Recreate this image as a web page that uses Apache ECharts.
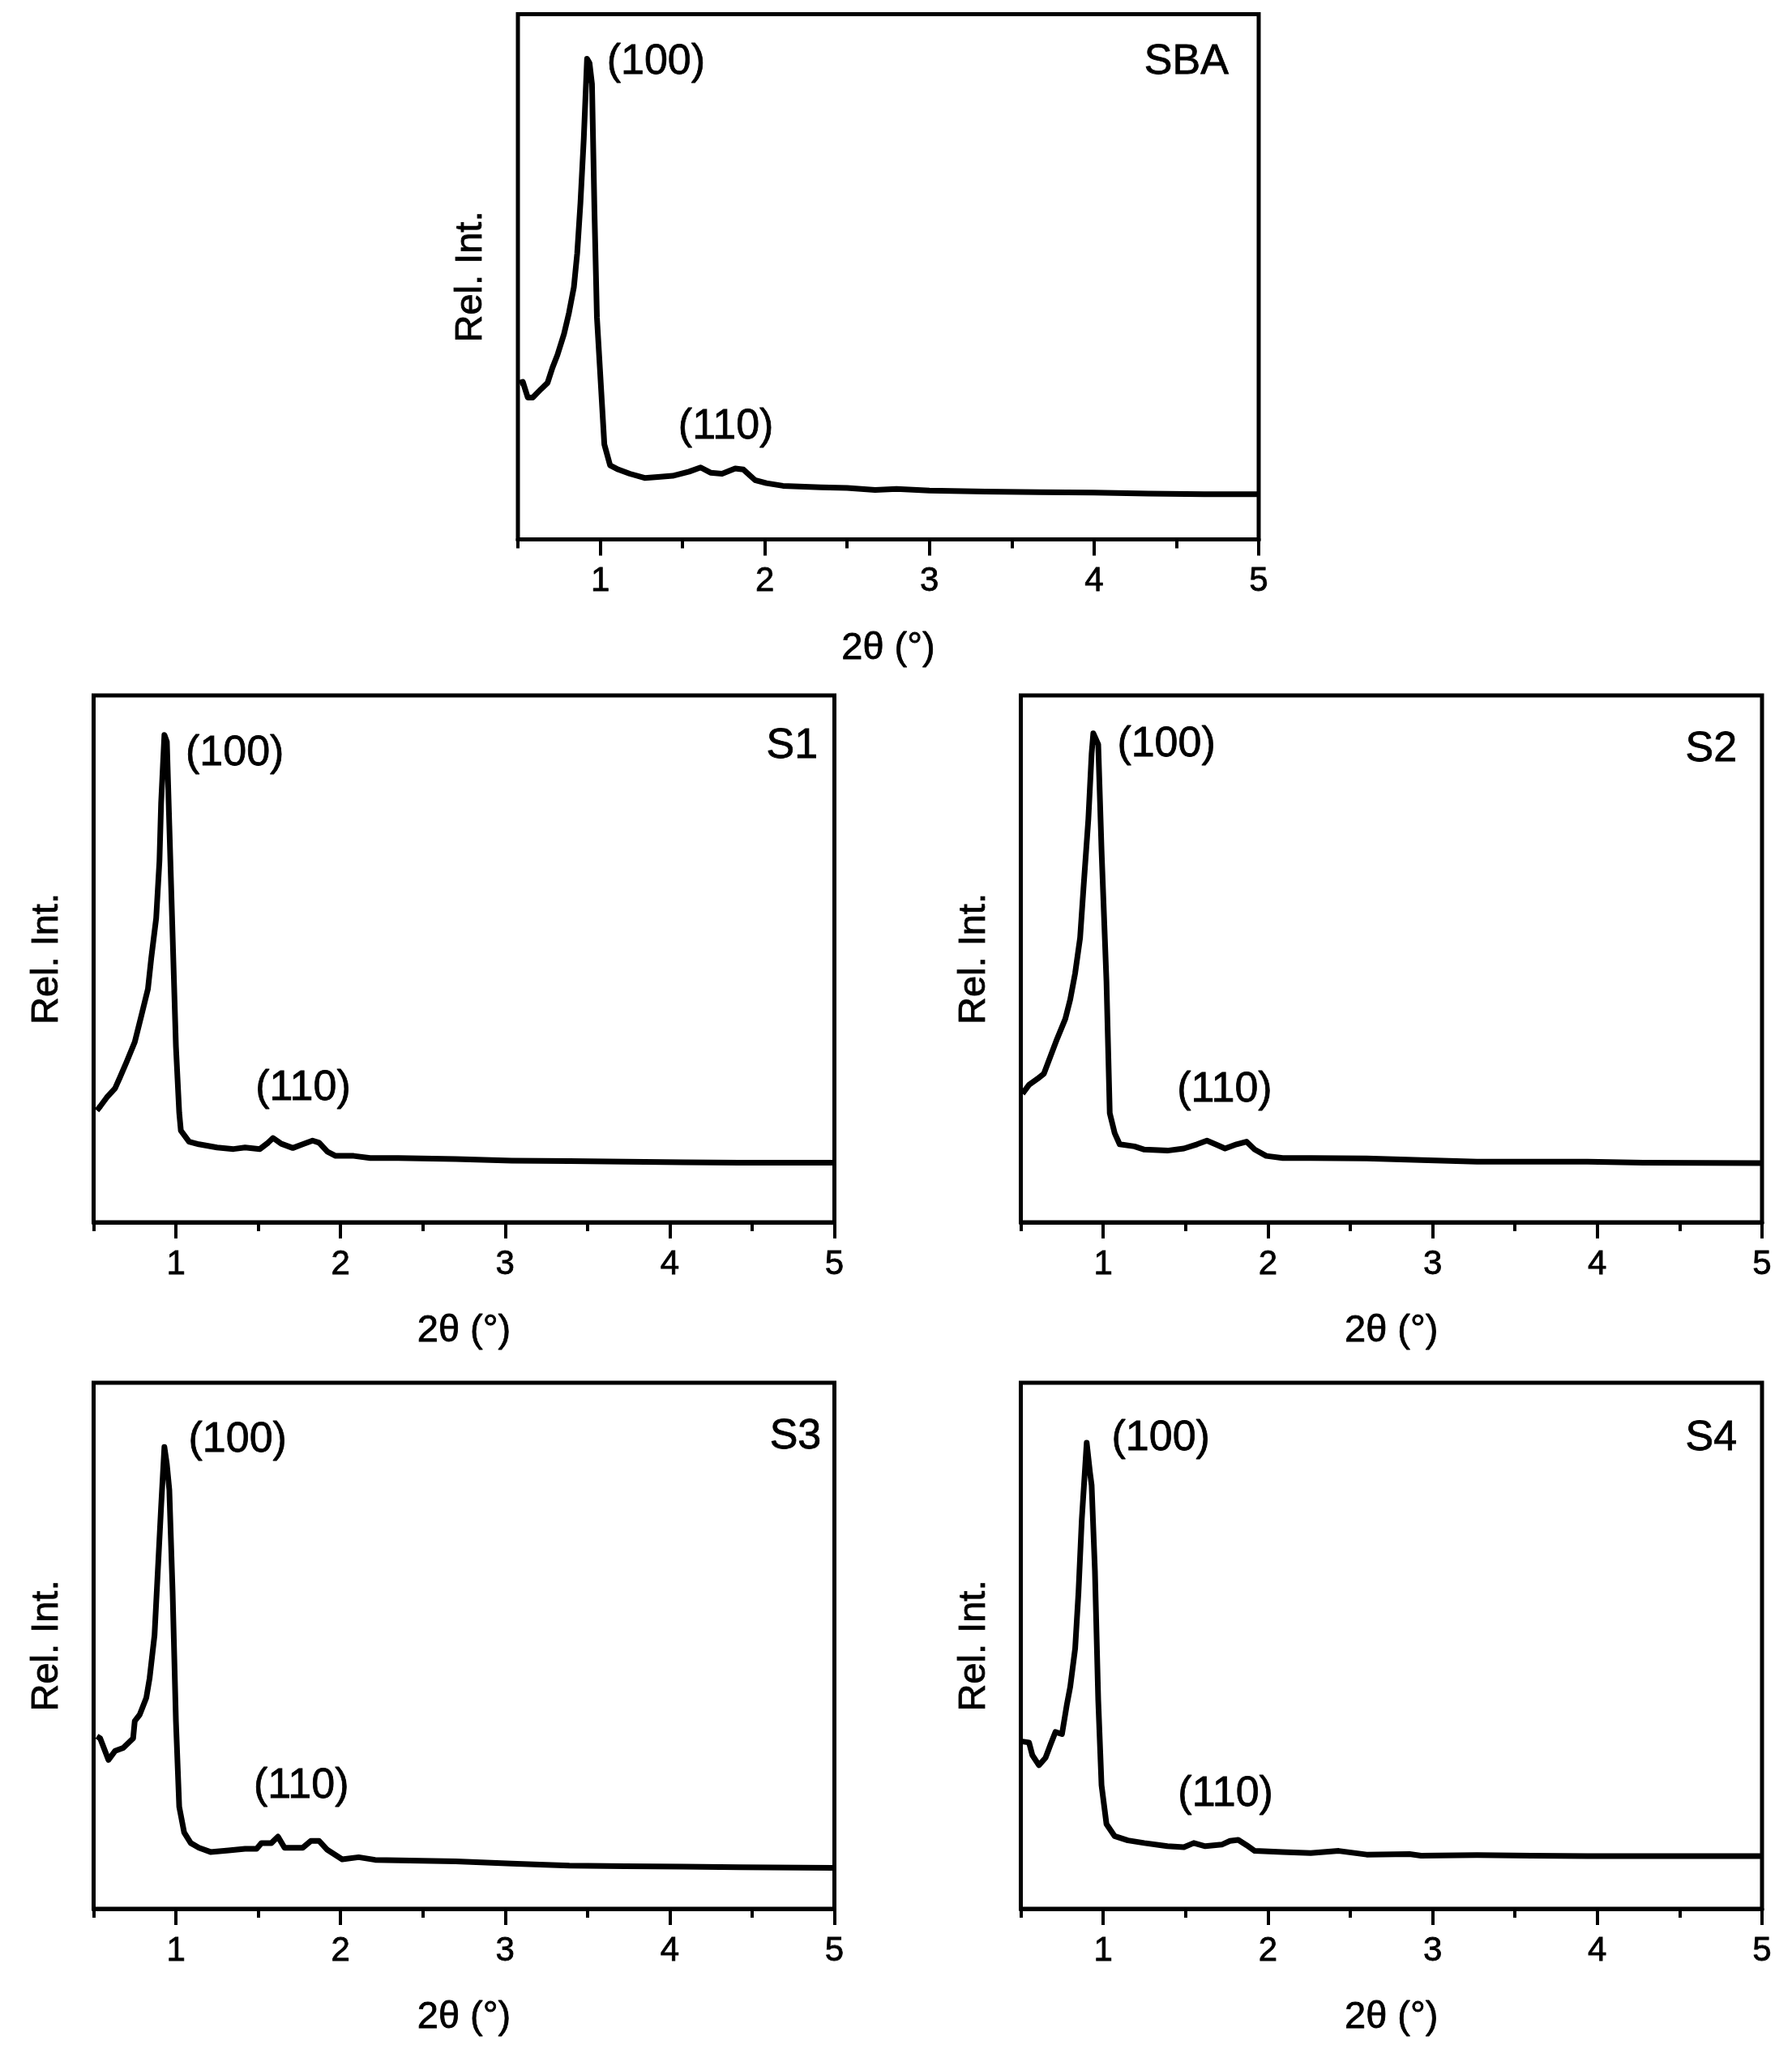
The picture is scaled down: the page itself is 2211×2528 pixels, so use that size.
<!DOCTYPE html>
<html>
<head>
<meta charset="utf-8">
<script src="https://cdn.jsdelivr.net/npm/echarts@6/dist/echarts.min.js"></script>
<style>html,body{margin:0;padding:0;background:#fff}#c{width:2211px;height:2528px}</style>
</head>
<body>
<div id="c"></div>
<script>
// ---------- data (2θ in degrees, relative intensity as % of plot height) ----------
const sbaTheta = [0.51,0.53,0.56,0.59,0.64,0.68,0.71,0.74,0.78,0.81,0.84,0.86,0.88,0.90,0.92,0.935,0.95,0.965,0.98,1.01,1.025,1.06,1.11,1.18,1.27,1.35,1.44,1.54,1.61,1.67,1.74,1.82,1.87,1.94,2.01,2.11,2.34,2.5,2.67,2.8,3.0,3.34,3.67,4.0,4.33,4.67,5.0];
const sbaInt   = [29.8,30.0,27.0,27.0,28.6,29.8,32.7,35.1,39.1,43.1,48.0,54.4,64.1,76.2,91.5,90.7,86.7,62.5,42.3,26.2,18.1,14.1,13.3,12.5,11.7,11.9,12.1,12.9,13.7,12.7,12.5,13.5,13.3,11.3,10.7,10.2,9.9,9.8,9.4,9.6,9.3,9.1,9.0,8.9,8.7,8.6,8.6];

const s1Theta = [0.52,0.54,0.58,0.63,0.66,0.70,0.75,0.79,0.83,0.85,0.88,0.90,0.91,0.93,0.945,0.96,0.98,1.0,1.02,1.03,1.08,1.14,1.25,1.35,1.42,1.51,1.56,1.59,1.64,1.71,1.77,1.83,1.87,1.92,1.97,2.08,2.18,2.35,2.7,3.04,3.39,3.73,4.08,4.42,4.99];
const s1Int   = [21.2,22.0,23.7,25.4,27.5,30.4,34.2,39.2,44.3,50.1,57.7,68.6,79.5,92.5,91.2,75.3,54.3,33.4,20.8,17.4,15.3,14.8,14.2,13.9,14.2,13.9,15.1,16.0,14.9,14.1,14.8,15.5,15.1,13.4,12.6,12.6,12.2,12.2,12.0,11.7,11.6,11.5,11.4,11.3,11.3];

const s2Theta = [0.51,0.55,0.60,0.64,0.68,0.72,0.77,0.80,0.83,0.86,0.88,0.91,0.93,0.94,0.97,0.99,1.02,1.04,1.07,1.10,1.19,1.25,1.39,1.49,1.57,1.63,1.69,1.74,1.81,1.87,1.92,1.99,2.09,2.26,2.6,2.93,3.27,3.6,3.94,4.28,4.99];
const s2Int   = [24.4,26.1,27.2,28.2,31.5,34.8,38.6,42.3,47.3,54.0,63.2,76.5,89.0,92.8,90.7,70.7,45.7,20.7,16.9,14.8,14.4,13.8,13.6,14.0,14.8,15.5,14.7,14.0,14.8,15.3,13.8,12.6,12.2,12.2,12.1,11.8,11.5,11.5,11.5,11.3,11.25];

const s3Theta = [0.52,0.54,0.59,0.63,0.68,0.74,0.75,0.78,0.82,0.84,0.87,0.89,0.91,0.93,0.945,0.96,0.98,1.0,1.02,1.05,1.09,1.14,1.21,1.32,1.42,1.49,1.52,1.58,1.62,1.66,1.77,1.82,1.87,1.92,2.01,2.11,2.21,2.35,2.7,3.04,3.21,3.39,3.73,4.08,4.42,4.99];
const s3Int   = [32.8,32.4,28.3,30.0,30.6,32.4,35.7,36.9,40.1,43.8,52.0,64.2,76.4,87.8,84.5,79.6,60.1,35.7,19.4,14.5,12.5,11.6,10.8,11.1,11.4,11.4,12.5,12.5,13.7,11.6,11.6,12.9,12.9,11.2,9.4,9.8,9.3,9.2,9.0,8.6,8.4,8.2,8.1,8.0,7.9,7.8];

const s4Theta = [0.51,0.55,0.57,0.61,0.65,0.68,0.71,0.75,0.78,0.80,0.83,0.85,0.87,0.90,0.92,0.93,0.95,0.97,0.99,1.02,1.07,1.15,1.25,1.39,1.49,1.55,1.62,1.72,1.77,1.82,1.87,1.92,2.09,2.26,2.43,2.6,2.86,2.93,3.27,3.6,3.94,4.28,4.99];
const s4Int   = [31.8,31.6,29.2,27.3,28.7,31.2,33.6,33.2,38.9,42.2,49.5,60.1,73.9,88.6,82.9,80.5,64.2,39.7,23.5,16.1,13.8,13.0,12.5,11.9,11.7,12.5,11.9,12.2,12.9,13.1,12.1,11.0,10.8,10.6,11.0,10.3,10.4,10.1,10.2,10.1,10.0,10.0,10.0];

const panelNames = ['SBA','S1','S2','S3','S4'];
const majorTicks = [1,2,3,4,5];
const minorTicks = [0.5,1.5,2.5,3.5,4.5];
const xTitle = '2θ (°)';
const yTitle = 'Rel. Int.';
// annotation anchors [θ, intensity] per panel: (100), (110), sample name
const peak100Pos = [[1.04,90.9],[1.059,89.0],[1.085,90.7],[1.076,89.1],[1.051,89.4]];
const peak110Pos = [[1.474,21.4],[1.483,25.4],[1.448,25.1],[1.472,23.3],[1.454,21.8]];
const namePos    = [[4.817,90.8],[4.90,90.4],[4.848,89.8],[4.92,89.8],[4.848,89.4]];

// ---------- layout ----------
const grids = [
  {left:639,   top:17.5, width:914,   height:648},
  {left:115.5, top:858,  width:914,   height:650},
  {left:1259.5,top:858,  width:914.5, height:650},
  {left:115.5, top:1706, width:914,   height:649},
  {left:1259.5,top:1706, width:914.5, height:649}
];
const series = [[sbaTheta,sbaInt],[s1Theta,s1Int],[s2Theta,s2Int],[s3Theta,s3Int],[s4Theta,s4Int]];
const FONT = '"Liberation Sans", Arial, sans-serif';
const STROKE = {textBorderColor:'#000', textBorderWidth:0.8};

const option = {
  backgroundColor:'#fff',
  animation:false,
  grid: grids.map(g => Object.assign({show:true, borderColor:'#000', borderWidth:5, backgroundColor:'transparent', containLabel:false}, g)),
  xAxis: [],
  yAxis: [],
  series: []
};

grids.forEach((g,i)=>{
  option.xAxis.push({
    gridIndex:i, type:'value', min:0.5, max:5, position:'bottom',
    axisLine:{show:true, onZero:false, lineStyle:{color:'#000', width:5}},
    axisTick:{show:true, customValues:majorTicks, length:20, inside:false, lineStyle:{color:'#000', width:4}},
    axisLabel:Object.assign({show:true, customValues:majorTicks, fontSize:42, color:'#000', fontFamily:FONT, margin:31}, STROKE),
    splitLine:{show:false},
    name:xTitle, nameLocation:'middle', nameGap:111,
    nameTextStyle:Object.assign({fontSize:47, color:'#000', fontFamily:FONT}, STROKE)
  });
  option.xAxis.push({
    gridIndex:i, type:'value', min:0.5, max:5, position:'bottom',
    axisLine:{show:false, onZero:false},
    axisTick:{show:true, customValues:minorTicks, length:11, inside:false, lineStyle:{color:'#000', width:4}},
    axisLabel:{show:false},
    splitLine:{show:false}
  });
  option.yAxis.push({
    gridIndex:i, type:'value', min:0, max:100,
    axisLine:{show:false}, axisTick:{show:false}, axisLabel:{show:false}, splitLine:{show:false},
    name:yTitle, nameLocation:'middle', nameRotate:90, nameGap:34,
    nameTextStyle:Object.assign({fontSize:47, color:'#000', fontFamily:FONT}, STROKE)
  });
  const [xs, ys] = series[i];
  option.series.push({
    type:'line', xAxisIndex:2*i, yAxisIndex:i,
    data: xs.map((x,k)=>[x, ys[k]]),
    showSymbol:false, symbol:'none', smooth:false, silent:true,
    lineStyle:{color:'#000', width:7, join:'round'}
  });
  const lbl = (pos, text, side) => ({
    type:'scatter', xAxisIndex:2*i, yAxisIndex:i, symbolSize:0, silent:true,
    itemStyle:{opacity:1},
    data:[pos],
    label:Object.assign({show:true, formatter:text, position:side, distance:0,
           fontSize:52, color:'#000', fontFamily:FONT}, STROKE)
  });
  option.series.push(lbl(peak100Pos[i], '(100)', 'right'));
  option.series.push(lbl(peak110Pos[i], '(110)', 'right'));
  option.series.push(lbl(namePos[i], panelNames[i], 'left'));
});

const chart = echarts.init(document.getElementById('c'), null, {renderer:'canvas', width:2211, height:2528});
chart.setOption(option);
</script>
</body>
</html>
